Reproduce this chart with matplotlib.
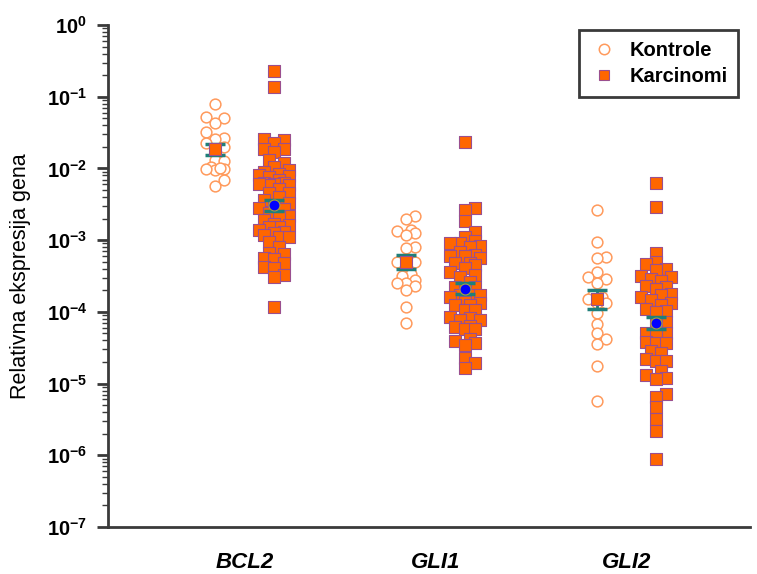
import numpy as np
import matplotlib
matplotlib.use('Agg')
import matplotlib.pyplot as plt
from matplotlib.lines import Line2D
from matplotlib.ticker import LogLocator, FixedLocator, NullFormatter

plt.rcParams['font.family'] = ['Liberation Sans', 'DejaVu Sans']
plt.rcParams['mathtext.fontset'] = 'custom'
plt.rcParams['mathtext.rm'] = 'Liberation Sans:bold'
plt.rcParams['mathtext.bf'] = 'Liberation Sans:bold'
plt.rcParams['mathtext.default'] = 'bf'
plt.rcParams['axes.unicode_minus'] = False

# data
genes = ['BCL2', 'GLI1', 'GLI2']

bcl2_kontrole = [0.079, 0.052, 0.050, 0.043, 0.032, 0.027, 0.026, 0.023, 0.020,
                 0.0187, 0.013, 0.0127, 0.0105, 0.0098, 0.0095, 0.0098, 0.0100,
                 0.0069, 0.0057]
bcl2_karcinomi = [0.228, 0.1365, 0.0257, 0.0249, 0.0226, 0.0187, 0.0187, 0.0169,
                  0.0131, 0.0119, 0.0105, 0.0095, 0.0089, 0.0085, 0.0081, 0.0078,
                  0.0076, 0.0069, 0.0063, 0.0063, 0.0061, 0.0059, 0.0059, 0.0061,
                  0.0052, 0.0045, 0.0045, 0.0040, 0.0036, 0.0033, 0.0031, 0.0028,
                  0.0027, 0.0024, 0.0022, 0.0021, 0.0019, 0.0017, 0.00162, 0.00152,
                  0.00152, 0.0014, 0.0013, 0.00126, 0.00118, 0.00110, 0.00110,
                  0.00094, 0.00080, 0.00066, 0.00064, 0.00056, 0.00054, 0.00048,
                  0.00042, 0.00041, 0.00033, 0.00031, 0.000117]
gli1_kontrole = [0.00217, 0.00197, 0.00138, 0.00134, 0.00126, 0.00118, 0.00080,
                 0.00078, 0.00050, 0.00044, 0.00050, 0.00034, 0.00032, 0.00028,
                 0.00025, 0.00025, 0.00023, 0.00020, 0.000117, 0.000070]
gli1_karcinomi = [0.0235, 0.0028, 0.0026, 0.00185, 0.00130, 0.00110, 0.00097,
                  0.00091, 0.00091, 0.00083, 0.00080, 0.00068, 0.00062, 0.00060,
                  0.00060, 0.00056, 0.00048, 0.00048, 0.00045, 0.00041, 0.00036,
                  0.00033, 0.00031, 0.00026, 0.00022, 0.00022, 0.00021, 0.00017,
                  0.00017, 0.00016, 0.00017, 0.000137, 0.000133, 0.000124,
                  0.000124, 0.000106, 0.000106, 0.0000846, 0.0000820, 0.0000769,
                  0.0000769, 0.0000634, 0.0000614, 0.0000575, 0.0000575,
                  0.0000418, 0.0000392, 0.0000367, 0.0000344, 0.0000227,
                  0.0000193, 0.0000164]
gli2_kontrole = [0.0026, 0.00094, 0.00058, 0.00056, 0.00036, 0.00031, 0.00029,
                 0.00025, 0.00017, 0.00016, 0.00015, 0.000133, 0.000133,
                 0.0000962, 0.0000676, 0.0000506, 0.0000418, 0.0000356,
                 0.0000175, 0.0000057]
gli2_karcinomi = [0.00625, 0.0029, 0.00066, 0.00050, 0.00046, 0.00040, 0.00038,
                  0.00032, 0.00031, 0.00029, 0.00027, 0.00023, 0.00022, 0.00021,
                  0.00018, 0.00017, 0.00016, 0.000146, 0.000133, 0.000124,
                  0.000109, 0.000103, 0.0000993, 0.0000721, 0.0000698,
                  0.0000506, 0.0000506, 0.0000490, 0.0000379, 0.0000367,
                  0.0000367, 0.0000284, 0.0000266, 0.0000220, 0.0000206,
                  0.0000206, 0.0000149, 0.0000131, 0.0000119, 0.0000116,
                  0.0000071, 0.0000065, 0.0000047, 0.0000032, 0.0000022,
                  0.00000089]

kontrole = [bcl2_kontrole, gli1_kontrole, gli2_kontrole]
karcinomi = [bcl2_karcinomi, gli1_karcinomi, gli2_karcinomi]

# means with error bars as drawn
mean_kontrole = [0.0187, 0.00050, 0.000150]
low_kontrole = [0.0154, 0.000395, 0.000109]
high_kontrole = [0.022, 0.00062, 0.000201]
mean_karcinomi = [0.0031, 0.00021, 0.000070]
low_karcinomi = [0.00255, 0.000177, 0.0000575]
high_karcinomi = [0.00362, 0.00025, 0.0000846]

ORANGE_LIGHT = '#ff9a5c'
ORANGE = '#ff6600'
SQ_EDGE = '#9a4f8f'
TEAL = '#1f7f7a'
SPINE = '#3a3a3a'


def swarm_offsets(ax, x0, values, min_dist, step, max_off):
    """Deterministic column scatter: pushes points sideways (in pixels) until
    they are far enough from those already placed."""
    pts = ax.transData.transform(np.column_stack([np.full(len(values), x0), values]))
    ys = pts[:, 1]
    order = np.argsort(ys)
    cands = [0.0]
    k = 1
    while k * step <= max_off:
        cands += [k * step, -k * step]
        k += 1
    placed = []
    offs = np.zeros(len(values))
    for i in order:
        best, best_d = 0.0, -1
        for c in cands:
            d = min([np.hypot(c - px, ys[i] - py) for px, py in placed] or [1e9])
            if d >= min_dist:
                best = c
                break
            if d > best_d:
                best, best_d = c, d
        offs[i] = best
        placed.append((best, ys[i]))
    xs = ax.transData.inverted().transform(
        np.column_stack([pts[:, 0] + offs, ys]))[:, 0]
    return xs


fig = plt.figure(figsize=(7.57, 5.74), dpi=100)
ax = fig.add_axes([0.1427, 0.0819, 0.848, 0.8745])
ax.set_yscale('log')
ax.set_ylim(1e-7, 1)
ax.set_xlim(-0.56, 2.80)

pos_k = np.arange(len(genes))
pos_c = pos_k + 0.31

for i in range(len(genes)):
    xk = swarm_offsets(ax, pos_k[i], kontrole[i], 9, 4.5, 13)
    ax.scatter(xk, kontrole[i], s=60, marker='o', facecolors='white',
               edgecolors=ORANGE_LIGHT, linewidths=1.1, zorder=2)
    xc = swarm_offsets(ax, pos_c[i], karcinomi[i], 8, 5, 15)
    ax.scatter(xc, karcinomi[i], s=72, marker='s', facecolors=ORANGE,
               edgecolors=SQ_EDGE, linewidths=0.8, zorder=3)

mk = np.array(mean_kontrole)
mc = np.array(mean_karcinomi)
ax.errorbar(pos_k, mk, yerr=[mk - np.array(low_kontrole), np.array(high_kontrole) - mk],
            fmt='none', ecolor=TEAL, elinewidth=2, capsize=7, capthick=2.5, zorder=4)
ax.errorbar(pos_c, mc, yerr=[mc - np.array(low_karcinomi), np.array(high_karcinomi) - mc],
            fmt='none', ecolor=TEAL, elinewidth=2, capsize=7, capthick=2.5, zorder=4)
ax.scatter(pos_k, mk, s=72, marker='s', facecolors=ORANGE, edgecolors=SQ_EDGE,
           linewidths=0.8, zorder=5)
ax.scatter(pos_c, mc, s=62, marker='o', facecolors='#0000ff', edgecolors='#a8a040',
           linewidths=0.8, zorder=5)

# axes styling
for side in ['top', 'right']:
    ax.spines[side].set_visible(False)
for side in ['left', 'bottom']:
    ax.spines[side].set_color(SPINE)
    ax.spines[side].set_linewidth(2)

ax.yaxis.set_minor_locator(LogLocator(base=10, subs=np.arange(2, 10), numticks=20))
ax.yaxis.set_minor_formatter(NullFormatter())
ax.set_yticks([10.0 ** e for e in range(-7, 1)])
ax.set_yticklabels([r'$10^{%d}$' % e for e in range(-7, 1)])
ax.tick_params(axis='y', which='major', length=8, width=2, color=SPINE,
               labelsize=14.5, pad=7)
ax.tick_params(axis='y', which='minor', length=4, width=1, color=SPINE)

ax.xaxis.set_major_locator(FixedLocator(pos_k + 0.155))
ax.set_xticklabels(genes, fontsize=16, fontweight='bold', fontstyle='italic')
ax.tick_params(axis='x', length=0, pad=18)

ax.set_ylabel('Relativna ekspresija gena', fontsize=15.5, labelpad=11)

handles = [
    Line2D([], [], linestyle='none', marker='o', markersize=7.5, markerfacecolor='white',
           markeredgecolor=ORANGE_LIGHT, markeredgewidth=1.1, label='Kontrole'),
    Line2D([], [], linestyle='none', marker='s', markersize=7.5, markerfacecolor=ORANGE,
           markeredgecolor=SQ_EDGE, markeredgewidth=0.8, label='Karcinomi'),
]
leg = ax.legend(handles=handles, loc='upper right', bbox_to_anchor=(0.982, 0.99),
                borderaxespad=0, fancybox=False, edgecolor=SPINE, framealpha=1,
                prop={'weight': 'bold', 'size': 14.5}, handletextpad=0.55,
                borderpad=0.55, labelspacing=0.35, handlelength=1.4)
leg.get_frame().set_linewidth(2)

fig.savefig('out.png', dpi=100)
